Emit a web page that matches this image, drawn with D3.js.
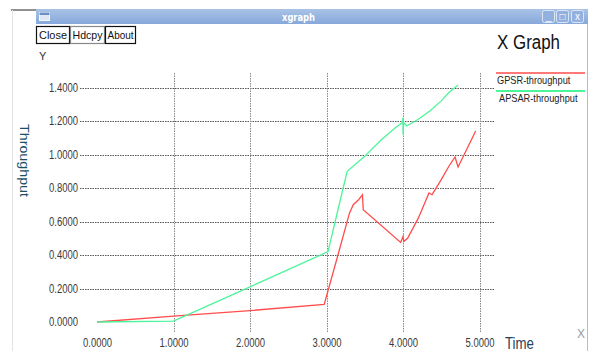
<!DOCTYPE html>
<html>
<head>
<meta charset="utf-8">
<script src="https://cdn.jsdelivr.net/npm/d3@7"></script>
<style>
  body { margin: 0; background: #fff; }
  svg { display: block; font-family: "Liberation Sans", Arial, sans-serif; }
</style>
</head>
<body>
<svg width="590" height="351"></svg>
<script>
// данные графика (время, пропускная способность)
const gpsrTime  = [0, 1.0, 2.0, 2.97, 3.15, 3.3, 3.35, 3.42, 3.47, 3.48, 3.97, 4.0, 4.01, 4.06, 4.2, 4.34, 4.38, 4.5, 4.6, 4.68, 4.72, 4.8, 4.95];
const gpsrValue = [0, 0.035, 0.068, 0.105, 0.40, 0.65, 0.70, 0.73, 0.76, 0.67, 0.475, 0.51, 0.48, 0.50, 0.62, 0.77, 0.76, 0.85, 0.93, 0.985, 0.925, 1.0, 1.14];

const apsarTime  = [0, 1.0, 2.0, 3.02, 3.15, 3.27, 3.5, 3.72, 3.9, 3.99, 4.0, 4.0, 4.01, 4.05, 4.2, 4.35, 4.5, 4.6, 4.72];
const apsarValue = [0, 0.005, 0.21, 0.42, 0.67, 0.9, 0.99, 1.09, 1.16, 1.19, 1.22, 1.12, 1.19, 1.17, 1.21, 1.26, 1.32, 1.37, 1.415];

const xTicks = [0, 1, 2, 3, 4, 5];
const yTicks = [0, 0.2, 0.4, 0.6, 0.8, 1.0, 1.2, 1.4];
const seriesNames = ["GPSR-throughput", "APSAR-throughput"];
const seriesColors = ["#ff4c4c", "#4cf59a"];

const svg = d3.select("svg");

// сжатый текст (в оригинале узкий шрифт)
function narrow(sel, len) {
  return sel.attr("textLength", len).attr("lengthAdjust", "spacingAndGlyphs");
}

// --- окно xgraph ---
svg.append("line").attr("x1", 11).attr("x2", 36).attr("y1", 10).attr("y2", 10)
   .attr("stroke", "#222").attr("stroke-width", 1);
svg.append("line").attr("x1", 12.5).attr("x2", 12.5).attr("y1", 10).attr("y2", 351)
   .attr("stroke", "#e4e4e4");

const grad = svg.append("defs").append("linearGradient")
   .attr("id", "tb").attr("x1", 0).attr("y1", 0).attr("x2", 0).attr("y2", 1);
grad.append("stop").attr("offset", "0%").attr("stop-color", "#a9c3e6");
grad.append("stop").attr("offset", "100%").attr("stop-color", "#86a8da");

svg.append("rect").attr("x", 36).attr("y", 9).attr("width", 552).attr("height", 15)
   .attr("fill", "url(#tb)");
svg.append("rect").attr("x", 39.5).attr("y", 12.5).attr("width", 10).attr("height", 8)
   .attr("fill", "#dfe7f3").attr("stroke", "#f4f7fb");
svg.append("rect").attr("x", 39.5).attr("y", 12.5).attr("width", 10).attr("height", 2.5)
   .attr("fill", "#6f8fc0");
narrow(svg.append("text").attr("x", 282).attr("y", 21)
   .style("font-family", "DejaVu Sans, sans-serif").style("font-weight", "bold")
   .style("font-size", "10px").attr("fill", "#fff").text("xgraph"), 33);

const winBtns = [[542, "_"], [556, "□"], [571, "x"]];
winBtns.forEach(b => {
  svg.append("rect").attr("x", b[0] + 0.5).attr("y", 10.5).attr("width", 12).attr("height", 12)
     .attr("rx", 2).attr("fill", "#93b1de").attr("stroke", "#dbe6f5");
  svg.append("text").attr("x", b[0] + 6.5).attr("y", 20).attr("text-anchor", "middle")
     .style("font-size", "10px").attr("fill", "#fff").text(b[1]);
});
svg.append("line").attr("x1", 587.5).attr("x2", 587.5).attr("y1", 24).attr("y2", 351)
   .attr("stroke", "#bcbcbc");

// кнопки Close / Hdcpy / About
const buttons = [[36, 33, "Close", "#111", 28], [70, 34, "Hdcpy", "#888", 30], [105, 30, "About", "#111", 26]];
buttons.forEach(b => {
  svg.append("rect").attr("x", b[0] + 0.5).attr("y", 26.5).attr("width", b[1]).attr("height", 17)
     .attr("fill", "#fff").attr("stroke", b[3]).attr("stroke-width", 1.2);
  narrow(svg.append("text").attr("x", b[0] + (b[1] - b[4]) / 2 + 0.5).attr("y", 39)
     .style("font-size", "11px").attr("fill", "#111").text(b[2]), b[4]);
});

narrow(svg.append("text").attr("x", 497).attr("y", 49).style("font-size", "20px")
   .attr("fill", "#111").text("X Graph"), 63);
svg.append("text").attr("x", 39).attr("y", 60).style("font-size", "11px")
   .attr("fill", "#333").text("Y");

// --- шкалы ---
const scX = d3.scaleLinear().domain([0, 5]).range([97, 479.5]);
const scY = d3.scaleLinear().domain([0, 1.4]).range([322, 87.5]);

// сетка (без нулевых линий)
svg.append("g").selectAll("line").data(yTicks.filter(d => d > 0)).join("line")
   .attr("x1", 80).attr("x2", 495)
   .attr("y1", d => Math.round(scY(d)) + 0.5).attr("y2", d => Math.round(scY(d)) + 0.5)
   .attr("stroke", "#555").attr("stroke-dasharray", "1.5,1");
svg.append("g").selectAll("line").data(xTicks.filter(d => d > 0)).join("line")
   .attr("x1", d => Math.round(scX(d)) + 0.5).attr("x2", d => Math.round(scX(d)) + 0.5)
   .attr("y1", 73).attr("y2", 333)
   .attr("stroke", "#888").attr("stroke-dasharray", "1.5,1");

// оси
const axY = svg.append("g").attr("transform", "translate(79,0)")
   .call(d3.axisLeft(scY).tickValues(yTicks).tickFormat(d3.format(".4f")).tickSize(0).tickPadding(1));
const axX = svg.append("g").attr("transform", "translate(0,337)")
   .call(d3.axisBottom(scX).tickValues(xTicks).tickFormat(d3.format(".4f")).tickSize(0).tickPadding(1));
[axY, axX].forEach(a => {
  a.select(".domain").remove();
  narrow(a.selectAll("text").style("font-size", "12px").style("font-family", null)
     .attr("fill", "#3a3a3a"), 29);
});

// подписи осей
narrow(svg.append("text").attr("transform", "translate(20,124) rotate(90)")
   .style("font-size", "13.5px").attr("fill", "#1a5068").text("Throughput"), 73);
narrow(svg.append("text").attr("x", 505).attr("y", 349)
   .style("font-size", "16px").attr("fill", "#2a4254").text("Time"), 29);
svg.append("text").attr("x", 577).attr("y", 338)
   .style("font-size", "12px").attr("fill", "#999").text("X");

// --- линии ---
const line = d3.line().x(d => scX(d[0])).y(d => scY(d[1]));
const series = [d3.zip(gpsrTime, gpsrValue), d3.zip(apsarTime, apsarValue)];
series.forEach((s, i) => {
  svg.append("path").datum(s).attr("d", line)
     .attr("fill", "none").attr("stroke", seriesColors[i]).attr("stroke-width", 1.3);
});

// легенда (текст сжат по горизонтали через scale)
seriesNames.forEach((name, i) => {
  const y = 73 + i * 18;
  svg.append("line").attr("x1", 496).attr("x2", 585).attr("y1", y).attr("y2", y)
     .attr("stroke", seriesColors[i]).attr("stroke-width", i === 0 ? 1.5 : 2);
  svg.append("text").attr("transform", `translate(${497 + i * 2},${y + 11}) scale(0.84,1)`)
     .style("font-size", "11px").attr("fill", "#222").text(name);
});
</script>
</body>
</html>
